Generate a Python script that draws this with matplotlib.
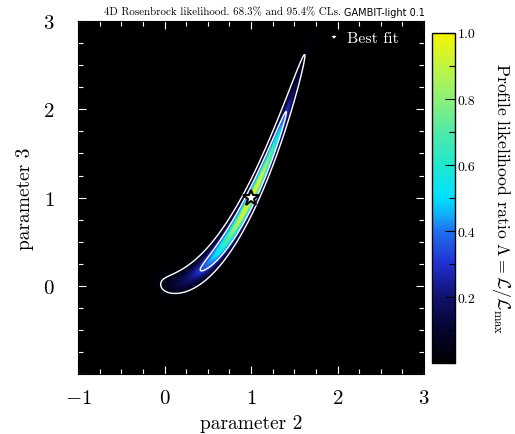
import numpy as np
import matplotlib
matplotlib.use("Agg")
import matplotlib.pyplot as plt
from matplotlib.colors import LinearSegmentedColormap
from matplotlib.ticker import AutoMinorLocator, MultipleLocator

plt.rcParams['font.family'] = 'serif'
plt.rcParams['font.serif'] = ['cmr10']
plt.rcParams['mathtext.fontset'] = 'cm'
plt.rcParams['axes.unicode_minus'] = False

# ---- data description ----
param_range = [-1.0, 3.0]          # scan range for parameters 2 and 3
best_fit = [1.0, 1.0]              # best-fit point (parameter 2, parameter 3)
cl_levels_delta_chi2 = [6.18, 2.30]  # 95.4% and 68.3% 2D CLs
rosen_a = 1.0
rosen_b = 70.0
x_ticks = [-1, 0, 1, 2, 3]
x_ticklabels = ['$-1$', '$0$', '$1$', '$2$', '$3$']
y_ticks = [-1, 0, 1, 2, 3]
y_ticklabels = ['', '$0$', '$1$', '$2$', '$3$']
cbar_ticks = [0.2, 0.4, 0.6, 0.8, 1.0]
cbar_ticklabels = ['0.2', '0.4', '0.6', '0.8', '1.0']
cmap_positions = [0.0, 0.1, 0.2, 0.3, 0.4, 0.45, 0.5, 0.6, 0.7, 0.8, 0.9, 1.0]
cmap_colors = ['#000000', '#05052e', '#10106e', '#2030d0', '#2070f0', '#10b0f8',
               '#00e0ff', '#20e8d0', '#50eaa8', '#8cf07a', '#c0f540', '#f5f500']

# ---- 4D Rosenbrock profile likelihood in (x2, x3) ----
n = 500
x2 = np.linspace(param_range[0], param_range[1], n)
x3 = np.linspace(param_range[0], param_range[1], n)
x1 = np.linspace(-2.5, 3.5, 3001)
# profile over x1
g = np.min(rosen_b * (x2[:, None] - x1[None, :] ** 2) ** 2 + (rosen_a - x1[None, :]) ** 2, axis=1)
X2, X3 = np.meshgrid(x2, x3)
G = np.broadcast_to(g[None, :], X2.shape)
# x4 profiled out exactly (x4 = x3^2)
f = G + rosen_b * (X3 - X2 ** 2) ** 2 + (rosen_a - X2) ** 2 + (rosen_a - X3) ** 2
lnL = -f
Lam = np.exp(lnL - lnL.max())
lam_levels = [np.exp(-d / 2.0) for d in cl_levels_delta_chi2]

cmap = LinearSegmentedColormap.from_list('gambit', list(zip(cmap_positions, cmap_colors)))

fig = plt.figure(figsize=(5.15, 4.35), dpi=100)
ax = fig.add_axes([0.1515, 0.138, 0.672, 0.811])
cax = fig.add_axes([0.839, 0.163, 0.044, 0.759])

im = ax.imshow(Lam, extent=[param_range[0], param_range[1], param_range[0], param_range[1]],
               origin='lower', cmap=cmap, vmin=0, vmax=1, aspect='auto', interpolation='bilinear')
ax.contour(X2, X3, Lam, levels=lam_levels, colors='white', linewidths=1.0)
ax.plot([best_fit[0]], [best_fit[1]], marker='*', color='white', markeredgecolor='black',
        markeredgewidth=1.5, markersize=12, linestyle='none', label='Best fit')

ax.set_xlim(param_range)
ax.set_ylim(param_range)
ax.set_xticks(x_ticks, x_ticklabels)
ax.set_yticks(y_ticks, y_ticklabels)
ax.xaxis.set_minor_locator(AutoMinorLocator(4))
ax.yaxis.set_minor_locator(AutoMinorLocator(4))
ax.tick_params(which='both', direction='in', color='white', top=True, right=True, labelsize=15)
ax.tick_params(axis='x', which='both', pad=11)
ax.tick_params(axis='y', which='both', pad=17)
ax.tick_params(which='major', length=6, width=0.8)
ax.tick_params(which='minor', length=3.5, width=0.8)
ax.set_xlabel('parameter 2', fontsize=14, labelpad=5)
ax.set_ylabel('parameter 3', fontsize=14, labelpad=6)

leg = ax.legend(loc='upper right', bbox_to_anchor=(0.945, 0.99), frameon=False, fontsize=11.5,
                labelcolor='white', markerscale=0.6, handletextpad=0.3, borderaxespad=0.0,
                handlelength=1.0)

cb = fig.colorbar(im, cax=cax)
cb.set_ticks(cbar_ticks, labels=cbar_ticklabels)
cb.ax.yaxis.set_minor_locator(MultipleLocator(0.1))
cb.ax.tick_params(which='both', direction='in', color='black', labelsize=10, pad=2)
cb.ax.tick_params(which='major', length=7, width=0.8)
cb.ax.tick_params(which='minor', length=4, width=0.8)
cb.outline.set_linewidth(1.0)
cb.set_label(r'Profile likelihood ratio $\Lambda = \mathcal{L}/\mathcal{L}_\mathrm{max}$',
             rotation=270, fontsize=12.8, labelpad=26)

fig.text(341 / 515, 1 - 13 / 435, '4D Rosenbrock likelihood. 68.3% and 95.4% CLs.',
         ha='right', va='center', fontsize=7.9)
fig.text(344 / 515, 1 - 13 / 435, 'GAMBIT-light 0.1', ha='left', va='center',
         fontsize=7.0, family='DejaVu Sans')

fig.savefig('out.png', dpi=100)
